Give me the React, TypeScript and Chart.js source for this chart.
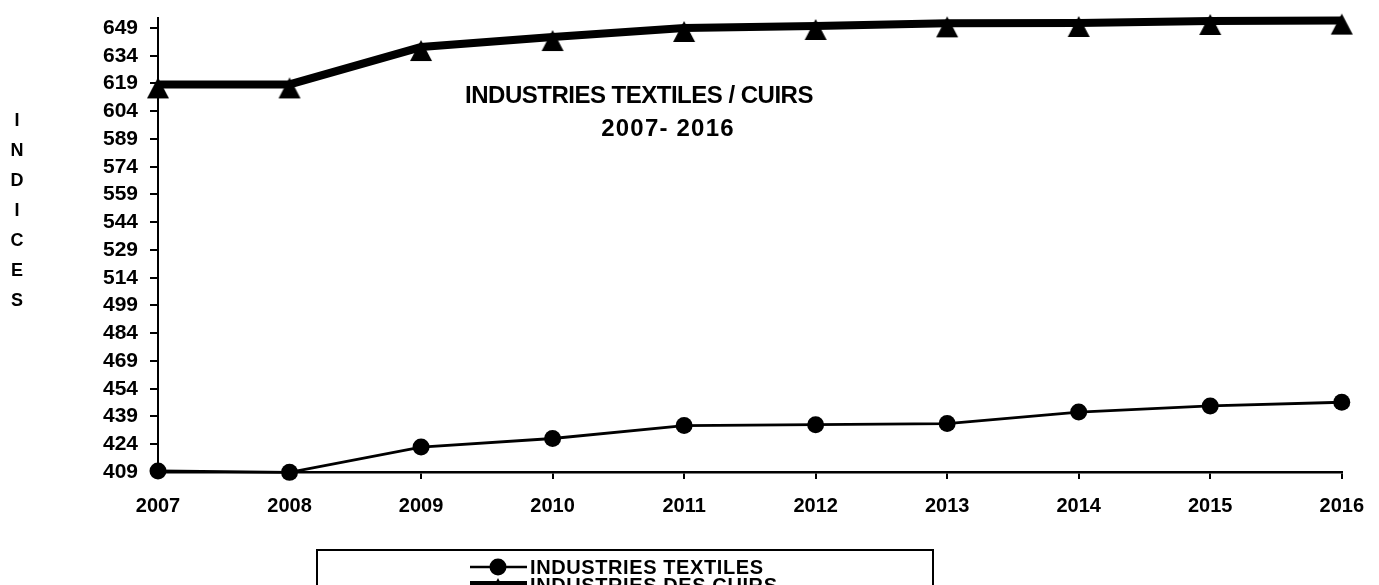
import React, { useEffect, useRef } from "react";
import { Chart, registerables } from "chart.js";

Chart.register(...registerables);

const years = ["2007", "2008", "2009", "2010", "2011", "2012", "2013", "2014", "2015", "2016"];
const textiles = [409.6, 408.8, 422.5, 427.1, 434.1, 434.6, 435.2, 441.4, 444.7, 446.7];
const cuirs = [618.5, 618.5, 638.7, 644.1, 649.0, 650.1, 651.5, 651.7, 652.8, 653.0];
const yTicks = [409, 424, 439, 454, 469, 484, 499, 514, 529, 544, 559, 574, 589, 604, 619, 634, 649];
const yMin = 409;
const yMax = 654.4;
const titleLines = ["INDUSTRIES TEXTILES / CUIRS", "2007- 2016"];
const yTitle = "INDICES";
const seriesNames = ["INDUSTRIES TEXTILES", "INDUSTRIES DES CUIRS"];

const FONT = "'Liberation Sans', Arial, Helvetica, sans-serif";

function makeTriangle(): HTMLCanvasElement {
  const c = document.createElement("canvas");
  c.width = 26;
  c.height = 40;
  const g = c.getContext("2d")!;
  g.fillStyle = "#000";
  g.beginPath();
  g.moveTo(13, 20 - 7);
  g.lineTo(24, 20 + 14);
  g.lineTo(2, 20 + 14);
  g.closePath();
  g.fill();
  return c;
}

export default function App() {
  const ref = useRef<HTMLCanvasElement | null>(null);

  useEffect(() => {
    if (!ref.current) return;
    const tri = makeTriangle();

    const decor = {
      id: "decor",
      afterDraw(chart: any) {
        const ctx = chart.ctx as CanvasRenderingContext2D;
        ctx.save();
        ctx.fillStyle = "#000";
        ctx.strokeStyle = "#000";
        // Title
        ctx.font = `bold 24px ${FONT}`;
        ctx.textAlign = "center";
        ctx.textBaseline = "alphabetic";
        (ctx as any).letterSpacing = "-0.5px";
        ctx.fillText(titleLines[0], 639, 103);
        (ctx as any).letterSpacing = "1.2px";
        ctx.fillText(titleLines[1], 668, 136);
        (ctx as any).letterSpacing = "0px";
        // Y title, stacked letters
        ctx.font = `bold 18px ${FONT}`;
        ctx.textBaseline = "middle";
        for (let i = 0; i < yTitle.length; i++) {
          ctx.fillText(yTitle[i], 17, 121 + i * 30);
        }
        // Legend box
        ctx.lineWidth = 2;
        ctx.strokeRect(317, 550, 616, 60);
        const ds = chart.data.datasets;
        // entry 1
        ctx.lineWidth = 2.5;
        ctx.beginPath();
        ctx.moveTo(470, 567);
        ctx.lineTo(527, 567);
        ctx.stroke();
        ctx.beginPath();
        ctx.arc(498, 567, 8.5, 0, Math.PI * 2);
        ctx.fill();
        ctx.font = `bold 20px ${FONT}`;
        ctx.textAlign = "left";
        ctx.textBaseline = "alphabetic";
        (ctx as any).letterSpacing = "0.6px";
        ctx.fillText(ds[0].label, 530, 574);
        // entry 2
        ctx.lineWidth = 8;
        ctx.beginPath();
        ctx.moveTo(470, 585);
        ctx.lineTo(527, 585);
        ctx.stroke();
        ctx.drawImage(tri, 498 - 13, 585 - 20);
        ctx.fillText(ds[1].label, 530, 592);
        ctx.restore();
      },
    };

    const chart = new Chart(ref.current, {
      type: "line",
      data: {
        labels: years,
        datasets: [
          {
            label: seriesNames[0],
            data: textiles,
            borderColor: "#000",
            backgroundColor: "#000",
            borderWidth: 2.8,
            pointStyle: "circle",
            pointRadius: 8.5,
            pointBorderWidth: 0,
            pointBackgroundColor: "#000",
            tension: 0,
            clip: false as any,
          },
          {
            label: seriesNames[1],
            data: cuirs,
            borderColor: "#000",
            backgroundColor: "#000",
            borderWidth: 8,
            pointStyle: tri as any,
            pointRadius: 10,
            pointBorderWidth: 0,
            tension: 0,
            clip: false as any,
          },
        ],
      },
      plugins: [decor],
      options: {
        animation: false,
        responsive: false,
        devicePixelRatio: 1,
        layout: { padding: { top: 18, right: 37, left: 0, bottom: 0 } },
        plugins: {
          legend: { display: false },
          title: { display: false },
          tooltip: { enabled: false },
        },
        scales: {
          x: {
            type: "category",
            offset: false,
            afterFit: (s: any) => {
              s.height = 113;
            },
            grid: {
              display: true,
              drawOnChartArea: false,
              drawTicks: true,
              tickLength: 7,
              color: "#000",
              lineWidth: 2,
            },
            border: { display: true, color: "#000", width: 2.5 },
            ticks: {
              color: "#000",
              font: { family: FONT, size: 20, weight: "bold" },
              padding: 15,
              maxRotation: 0,
              autoSkip: false,
            },
          },
          y: {
            min: yMin,
            max: yMax,
            afterFit: (s: any) => {
              s.width = 158;
              s.paddingTop = 0;
              s.paddingBottom = 0;
            },
            afterBuildTicks: (axis: any) => {
              axis.ticks = yTicks.map((v) => ({ value: v }));
            },
            grid: {
              display: true,
              drawOnChartArea: false,
              drawTicks: true,
              tickLength: 8,
              color: "#000",
              lineWidth: 2,
            },
            border: { display: true, color: "#000", width: 2 },
            ticks: {
              color: "#000",
              font: { family: FONT, size: 21, weight: "bold", lineHeight: 1 },
              padding: 12,
              autoSkip: false,
              callback: (v: any) => String(v),
            },
          },
        },
      },
    });
    return () => chart.destroy();
  }, []);

  return (
    <div style={{ position: "absolute", left: 0, top: 0, width: 1379, height: 585, background: "#fff" }}>
      <canvas ref={ref} width={1379} height={585} style={{ width: 1379, height: 585, display: "block" }} />
    </div>
  );
}
